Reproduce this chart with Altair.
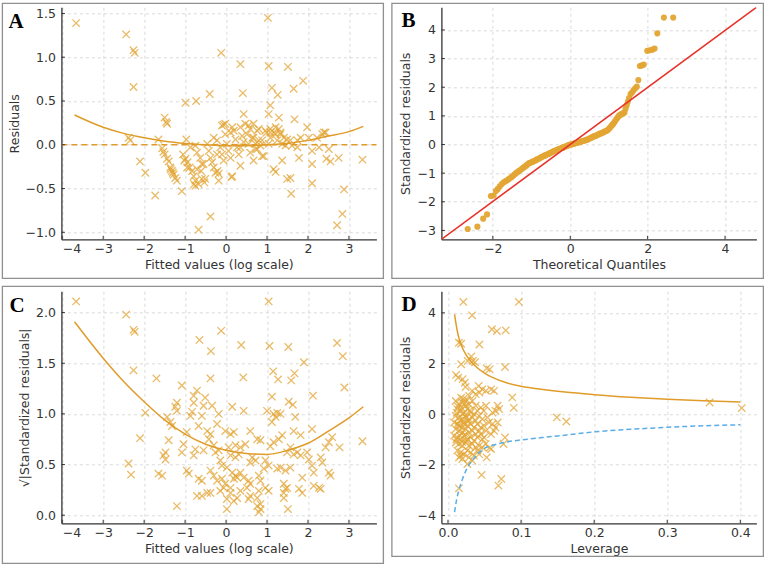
import altair as alt
import pandas as pd

FONT = "DejaVu Sans"
MARK = "#E3A534"
LINE = "#E09C2A"
RED = "#E8332B"
BLUE = "#5AAEE6"
XSHAPE = "M-1,-1L1,1M-1,1L1,-1"
W, H = 315, 232

# ---------------- Panel A : residuals vs fitted ----------------
a_pts = [
    (-3.66, 1.39), (-2.44, 1.26), (-2.26, 1.08), (-2.23, 1.05), (-2.26, 0.66), (-2.38, 0.08), (-2.34, 0.05),
    (-2.10, -0.19), (-1.97, -0.32), (-1.73, -0.58), (-1.65, 0.06), (-1.50, 0.31), (-1.46, 0.26), (-1.44, 0.24),
    (-1.08, -0.53), (-0.99, 0.48), (-0.97, 0.06), (-0.73, 0.50), (-0.67, -0.97),
    (-1.56, -0.04), (-1.53, -0.08), (-1.50, -0.11), (-1.44, -0.16), (-1.40, -0.19), (-1.36, -0.26), (-1.32, -0.30),
    (-1.28, -0.34), (-1.24, -0.38), (-1.20, -0.41), (-1.30, -0.32), (-1.35, -0.28),
    (-1.05, -0.11), (-0.99, -0.16), (-0.94, -0.20), (-0.89, -0.26), (-0.83, -0.30), (-0.79, -0.36), (-0.75, -0.41),
    (-0.67, -0.45), (-0.61, -0.30), (-0.59, -0.39), (-0.53, -0.43), (-1.02, -0.18), (-0.95, -0.26), (-0.75, -0.47),
    (-0.87, -0.03), (-0.75, -0.01), (-0.71, -0.09), (-0.63, -0.15), (-0.59, -0.22), (-0.46, 0.01), (-0.42, -0.07),
    (-0.38, -0.15), (-0.34, -0.20), (-0.30, -0.26), (-0.26, -0.32), (-0.21, -0.30), (-0.51, -0.39), (-0.30, 0.08),
    (-0.22, 0.05), (-0.14, -0.03), (-0.10, -0.11), (-0.06, -0.18), (-0.02, 0.12), (0.02, 0.01), (0.06, -0.07),
    (0.11, -0.15), (0.15, -0.36), (0.19, 0.16), (0.23, 0.06), (0.27, -0.03), (0.31, -0.11), (0.35, 0.20),
    (0.39, 0.10), (0.43, 0.03), (0.47, 0.24), (0.51, 0.12), (0.55, 0.01), (0.59, 0.18), (0.64, 0.08), (0.67, 0.24),
    (0.72, -0.05), (0.76, 0.16), (0.80, 0.05), (0.67, -0.18), (0.35, -0.24), (-0.18, -0.41), (-0.02, 0.24),
    (-0.10, 0.22), (0.11, 0.14),
    (-0.40, 0.58), (0.41, 0.59), (0.43, 0.35), (1.02, 1.45), (-0.12, 1.05), (0.35, 0.92), (1.04, 0.90), (1.51, 0.89),
    (1.88, 0.73), (1.65, 0.64), (1.12, 0.65), (1.26, 0.57), (1.08, 0.45), (1.04, 0.35), (1.29, 0.31), (1.67, 0.29),
    (-0.06, 0.23), (0.15, 0.20), (0.55, 0.22), (0.80, 0.18), (1.98, 0.20), (2.39, 0.14),
    (0.96, 0.16), (1.08, 0.14), (1.21, 0.12), (1.33, 0.12), (1.41, 0.08), (1.49, 0.06), (1.57, 0.05), (1.74, 0.05),
    (1.82, 0.08), (2.02, 0.08), (2.22, 0.08), (2.35, 0.12), (2.43, 0.14), (1.08, 0.08), (1.25, 0.05), (1.37, 0.01),
    (1.45, -0.01), (1.61, -0.01), (1.74, -0.03), (0.88, 0.05), (0.84, -0.01), (1.04, 0.01), (0.72, 0.01), (0.67, 0.08),
    (0.92, -0.13), (1.37, -0.18), (1.78, -0.15), (2.10, -0.07), (2.10, -0.22), (2.27, -0.03), (2.51, -0.05),
    (2.45, -0.16), (2.55, -0.19), (2.75, -0.15), (3.33, -0.17), (1.16, -0.28), (1.21, -0.31), (1.57, -0.38),
    (1.49, -0.39), (2.10, -0.44), (1.59, -0.56), (2.88, -0.51), (2.84, -0.79), (2.71, -0.92),
    (0.13, -0.37), (-0.18, -0.33), (-0.78, -0.45), (-0.38, -0.82),
    (0.35, -0.03), (0.59, -0.09), (0.76, -0.05), (0.88, -0.13), (-0.22, -0.11), (-0.55, -0.22), (-0.71, -0.28),
    (0.99, 0.14), (1.08, 0.18), (1.21, 0.20), (1.29, 0.18), (1.33, 0.14), (1.16, 0.14),
]
a_curve_x = [-3.7, -3.0, -2.5, -2.0, -1.5, -1.0, -0.5, 0.0, 0.5, 1.0, 1.5, 2.0, 2.5, 3.0, 3.35]
a_curve_y = [0.34, 0.20, 0.13, 0.08, 0.04, 0.015, 0.0, -0.01, -0.01, 0.0, 0.015, 0.05, 0.10, 0.15, 0.21]
a_zero_x = [-4.02, 3.67]
a_zero_y = [0.0, 0.0]

# ---------------- Panel B : normal Q-Q ----------------
b_qx = [-2.65, -2.40, -2.25, -2.15, -2.05, -1.98, -1.92, -1.87, -1.82, -1.77, -1.72, -1.67, -1.62, -1.58, -1.53,
        -1.49, -1.45, -1.41, -1.37, -1.33, -1.29, -1.25, -1.21, -1.18, -1.14, -1.11, -1.07, -1.04, -1.00, -0.97,
        -0.94, -0.90, -0.87, -0.84, -0.80, -0.77, -0.74, -0.71, -0.68, -0.65, -0.62, -0.58, -0.55, -0.52, -0.49,
        -0.46, -0.43, -0.40, -0.37, -0.34, -0.31, -0.28, -0.25, -0.22, -0.19, -0.16, -0.13, -0.10, -0.07, -0.04,
        -0.01, 0.02, 0.05, 0.08, 0.11, 0.14, 0.17, 0.20, 0.23, 0.26, 0.29, 0.32, 0.35, 0.38, 0.41, 0.44, 0.47,
        0.50, 0.53, 0.56, 0.59, 0.62, 0.65, 0.68, 0.71, 0.74, 0.77, 0.80, 0.83, 0.86, 0.89, 0.92, 0.95, 0.98,
        1.01, 1.04, 1.07, 1.10, 1.13, 1.16, 1.19, 1.22, 1.25, 1.28, 1.31, 1.34, 1.37, 1.40, 1.43, 1.46, 1.49,
        1.52, 1.56, 1.60, 1.64, 1.68, 1.72, 1.76, 1.80, 1.85, 1.90, 1.99, 2.05, 2.12, 2.18, 2.25, 2.42, 2.66]
b_qy = [-2.95, -2.87, -2.59, -2.44, -1.80, -1.78, -1.62, -1.55, -1.46, -1.38, -1.32, -1.28, -1.24, -1.20, -1.15,
        -1.11, -1.06, -1.01, -0.97, -0.93, -0.89, -0.85, -0.81, -0.78, -0.74, -0.70, -0.66, -0.64, -0.62, -0.60,
        -0.58, -0.56, -0.53, -0.51, -0.49, -0.46, -0.44, -0.42, -0.40, -0.38, -0.36, -0.34, -0.32, -0.30, -0.28,
        -0.26, -0.24, -0.22, -0.21, -0.19, -0.17, -0.16, -0.14, -0.12, -0.11, -0.09, -0.07, -0.06, -0.04, -0.02,
        0.00, 0.00, 0.01, 0.02, 0.04, 0.05, 0.06, 0.07, 0.08, 0.09, 0.11, 0.12, 0.13, 0.14, 0.16, 0.17, 0.19,
        0.21, 0.23, 0.25, 0.27, 0.29, 0.30, 0.32, 0.34, 0.36, 0.38, 0.39, 0.41, 0.43, 0.45, 0.47, 0.49, 0.52,
        0.56, 0.61, 0.66, 0.70, 0.76, 0.82, 0.88, 0.93, 0.99, 1.03, 1.05, 1.07, 1.09, 1.12, 1.25, 1.38, 1.50,
        1.62, 1.76, 1.82, 1.90, 1.96, 2.02, 2.25, 2.74, 2.76, 2.79, 3.27, 3.29, 3.31, 3.35, 3.88, 4.43, 4.43]
b_ref_x = [-3.33, 4.81]
b_ref_y = [-3.31, 4.79]

# ---------------- Panel C : scale-location ----------------
c_pts = [
    (-3.66, 2.11), (-2.44, 1.98), (-2.26, 1.83), (-2.23, 1.81), (-2.26, 1.43), (-1.70, 1.35), (-2.38, 0.51),
    (-2.32, 0.40), (-2.10, 0.76), (-1.97, 1.01),
    (1.04, 2.11), (-0.12, 1.82), (-0.65, 1.73), (0.37, 1.68), (-0.37, 1.62), (1.06, 1.67), (1.52, 1.66), (2.71, 1.70),
    (2.85, 1.57), (1.90, 1.51), (1.15, 1.42), (1.27, 1.34), (1.59, 1.33), (1.67, 1.40), (-0.38, 1.35), (0.42, 1.36),
    (-1.08, 1.28), (-0.71, 1.23), (-0.79, 1.18), (-1.20, 1.11), (-1.24, 1.07), (-1.20, 1.03), (-0.79, 1.11),
    (-0.83, 1.02), (-0.87, 0.98), (-0.51, 1.16), (-0.55, 1.08), (-0.59, 0.98), (-0.18, 1.00), (0.15, 1.07),
    (0.43, 1.03), (-0.34, 1.08), (-1.44, 0.97), (-1.36, 0.92), (-1.32, 0.88), (-0.67, 0.88), (-0.22, 0.90),
    (-0.96, 0.82), (-0.46, 0.83), (-0.38, 0.80), (-0.42, 0.75), (-0.02, 0.83), (0.11, 0.80), (0.19, 0.82),
    (0.59, 0.83), (-1.40, 0.74), (-1.04, 0.70), (-1.08, 0.62), (-0.75, 0.65), (-0.79, 0.59), (-0.55, 0.64),
    (-0.30, 0.69), (-0.26, 0.62), (-0.18, 0.64), (-0.14, 0.54), (-0.10, 0.49), (0.06, 0.67), (0.23, 0.69),
    (0.35, 0.67), (0.47, 0.70), (0.76, 0.75), (0.84, 0.74), (0.11, 0.59), (0.23, 0.57), (0.31, 0.60), (0.64, 0.57),
    (0.72, 0.54), (0.59, 0.52), (-1.48, 0.62), (-1.53, 0.59), (-1.48, 0.55), (-1.65, 0.41), (-1.56, 0.39),
    (-0.96, 0.44), (-0.91, 0.41), (-0.67, 0.36), (-0.59, 0.34), (-0.38, 0.44), (-0.30, 0.39), (-0.22, 0.34),
    (0.02, 0.47), (0.15, 0.42), (0.23, 0.39), (0.27, 0.37), (0.19, 0.36), (0.35, 0.42), (-0.10, 0.36), (-0.02, 0.31),
    (0.11, 0.27), (0.43, 0.37), (0.55, 0.34), (0.59, 0.31), (0.80, 0.39), (0.84, 0.34), (-0.71, 0.19), (-0.59, 0.19),
    (-0.38, 0.22), (-0.14, 0.24), (0.02, 0.16), (0.11, 0.22), (0.35, 0.24), (0.55, 0.16), (0.59, 0.19), (0.76, 0.17),
    (0.84, 0.11), (0.80, 0.03), (-1.20, 0.09), (0.02, 0.06),
    (1.12, 1.17), (1.53, 1.12), (1.63, 1.09), (2.12, 1.18), (2.89, 1.26), (1.00, 1.03), (1.16, 1.00), (1.25, 1.01),
    (1.33, 1.00), (1.12, 0.92), (1.21, 0.97), (1.69, 0.97), (1.65, 0.83), (1.82, 0.79), (2.10, 0.85), (1.37, 0.79),
    (1.29, 0.75), (1.16, 0.72), (1.08, 0.68), (2.59, 0.77), (2.51, 0.72), (2.43, 0.67), (2.77, 0.67), (3.33, 0.73),
    (1.57, 0.67), (1.49, 0.62), (1.65, 0.60), (1.74, 0.62), (1.82, 0.59), (1.98, 0.62), (2.02, 0.55), (2.31, 0.57),
    (2.35, 0.52), (0.96, 0.54), (1.04, 0.49), (0.92, 0.46), (1.25, 0.46), (1.33, 0.47), (1.45, 0.44), (1.57, 0.47),
    (2.10, 0.49), (2.14, 0.42), (2.51, 0.42), (2.55, 0.39), (1.86, 0.37), (0.96, 0.27), (1.04, 0.24), (1.41, 0.31),
    (1.45, 0.26), (1.49, 0.27), (1.41, 0.22), (1.78, 0.26), (1.86, 0.22), (2.14, 0.29), (2.27, 0.27), (2.31, 0.26),
    (1.41, 0.17), (1.51, 0.06), (0.84, 0.06),
    (0.80, 0.24), (0.76, 0.09), (0.51, 0.27), (0.27, 0.17), (0.19, 0.14), (-0.46, 0.22), (-0.06, 0.27),
]
c_curve_x = [-3.7, -3.0, -2.5, -2.0, -1.5, -1.0, -0.5, 0.0, 0.5, 1.0, 1.5, 2.0, 2.5, 3.0, 3.35]
c_curve_y = [1.91, 1.55, 1.32, 1.12, 0.94, 0.80, 0.70, 0.64, 0.61, 0.60, 0.64, 0.71, 0.83, 0.96, 1.07]

# ---------------- Panel D : residuals vs leverage ----------------
d_pts = [
    (0.021, 4.43), (0.097, 4.43), (0.033, 3.90), (0.060, 3.35), (0.067, 3.28), (0.079, 3.31), (0.015, 2.82),
    (0.018, 2.78), (0.043, 2.75), (0.032, 2.28), (0.034, 2.10), (0.037, 2.05), (0.027, 2.10), (0.018, 1.97),
    (0.053, 1.81), (0.057, 1.77), (0.078, 1.86), (0.011, 1.55), (0.014, 1.44), (0.020, 1.38), (0.023, 1.24),
    (0.024, 1.07), (0.088, 0.66), (0.090, 0.25), (0.149, -0.13), (0.162, -0.29), (0.358, 0.46), (0.402, 0.24),
    (0.078, -0.92), (0.076, -1.18), (0.057, -1.33), (0.053, -1.71), (0.046, -2.40), (0.073, -2.56), (0.069, -2.82),
    (0.015, -2.93),
    (0.042, 1.11), (0.047, 0.98), (0.052, 0.92), (0.059, 0.98), (0.063, 0.92), (0.033, 0.92), (0.038, 0.79),
    (0.043, 0.85), (0.029, 0.72), (0.068, 0.33), (0.070, 0.20), (0.065, 0.13), (0.061, 0.06), (0.052, 0.33),
    (0.049, 0.13), (0.054, -0.13), (0.056, -0.33), (0.061, -0.39), (0.065, -0.53), (0.068, -0.33), (0.063, -0.66),
    (0.059, -0.79), (0.049, -0.46), (0.052, -0.66), (0.059, -1.38),
    (0.0106, 0.52), (0.0151, 0.39), (0.0197, 0.46), (0.0243, 0.33), (0.0288, 0.39), (0.0334, 0.52), (0.0380, 0.33),
    (0.0128, 0.20), (0.0174, 0.13), (0.0220, 0.06), (0.0266, 0.20), (0.0311, 0.06), (0.0357, 0.00), (0.0403, 0.13),
    (0.0449, 0.26), (0.0106, -0.07), (0.0151, -0.13), (0.0197, -0.20), (0.0243, -0.07), (0.0288, -0.20),
    (0.0334, -0.13), (0.0380, -0.26), (0.0426, -0.07), (0.0471, -0.20), (0.0083, -0.33), (0.0128, -0.39),
    (0.0174, -0.46), (0.0220, -0.33), (0.0266, -0.46), (0.0311, -0.39), (0.0357, -0.53), (0.0403, -0.39),
    (0.0449, -0.53), (0.0106, -0.59), (0.0151, -0.66), (0.0197, -0.72), (0.0243, -0.59), (0.0288, -0.72),
    (0.0334, -0.66), (0.0380, -0.79), (0.0426, -0.66), (0.0083, -0.85), (0.0128, -0.92), (0.0174, -0.99),
    (0.0220, -0.85), (0.0266, -0.99), (0.0311, -0.92), (0.0357, -1.05), (0.0403, -0.92), (0.0106, -1.12),
    (0.0151, -1.18), (0.0197, -1.25), (0.0243, -1.12), (0.0288, -1.25), (0.0334, -1.18), (0.0380, -1.31),
    (0.0128, -1.44), (0.0174, -1.51), (0.0220, -1.58), (0.0266, -1.44), (0.0311, -1.51), (0.0357, -1.64),
    (0.0151, -1.71), (0.0197, -1.77), (0.0288, -1.71), (0.0334, -1.84), (0.0266, -1.97), (0.0174, -1.64),
    (0.0403, -1.44), (0.0426, -1.25), (0.0471, -0.99), (0.0449, -0.79), (0.0494, -0.92), (0.0517, -1.18),
    (0.0471, -1.31), (0.0426, -1.58),
    (0.0140, 0.30), (0.0185, 0.25), (0.0230, 0.45), (0.0205, 0.00), (0.0160, -0.25), (0.0250, -0.15),
    (0.0190, -0.55), (0.0235, -0.80), (0.0165, -0.85), (0.0275, -0.30), (0.0120, 0.05), (0.0300, 0.15),
    (0.0210, 0.60), (0.0260, 0.55), (0.0180, 0.65), (0.0145, -0.45), (0.0225, -0.40), (0.0115, -1.00),
    (0.0255, -1.05), (0.0195, -1.10),
]
d_cook_x = [0.009, 0.012, 0.015, 0.02, 0.025, 0.03, 0.04, 0.05, 0.06, 0.08, 0.10, 0.13, 0.16, 0.20, 0.25, 0.30, 0.35, 0.40]
d_upper_y = [3.94, 3.40, 3.00, 2.60, 2.33, 2.13, 1.83, 1.62, 1.46, 1.24, 1.10, 0.97, 0.87, 0.77, 0.67, 0.59, 0.53, 0.48]
d_lower_y = [-3.87, -3.35, -3.00, -2.55, -2.20, -1.95, -1.60, -1.35, -1.24, -1.10, -1.02, -0.92, -0.83, -0.70, -0.60, -0.52, -0.46, -0.42]


def pts_df(pts):
    return pd.DataFrame({"x": [p[0] for p in pts], "y": [p[1] for p in pts]})


def enc(xdom, ydom, xvals, yvals, xfmt, yfmt, xtitle, ytitle):
    ex = alt.X("x:Q", scale=alt.Scale(domain=xdom, nice=False, zero=False),
               axis=alt.Axis(values=xvals, format=xfmt, title=xtitle))
    ey = alt.Y("y:Q", scale=alt.Scale(domain=ydom, nice=False, zero=False),
               axis=alt.Axis(values=yvals, format=yfmt, title=ytitle))
    return ex, ey


def decor(letter, lx, ly, box, xvals, yvals, ex, ey):
    one = pd.DataFrame({"k": [1]})
    frame = alt.Chart(one).mark_rect(fill="transparent", stroke="#8f8f8f", strokeWidth=1.3).encode(
        x=alt.value(box[0]), x2=alt.value(box[2]), y=alt.value(box[1]), y2=alt.value(box[3]))
    label = alt.Chart(one).mark_text(text=letter, font="Liberation Serif", fontWeight="bold", fontSize=21,
                                      align="left", baseline="alphabetic", color="black").encode(
        x=alt.value(lx), y=alt.value(ly))
    xt = alt.Chart(pd.DataFrame({"x": xvals})).mark_rule(color="#333333", strokeWidth=1).encode(
        x=ex, y=alt.value(H - 3.5), y2=alt.value(H))
    yt = alt.Chart(pd.DataFrame({"y": yvals})).mark_rule(color="#333333", strokeWidth=1).encode(
        y=ey, x=alt.value(0), x2=alt.value(3.5))
    return [frame, label, xt, yt]


def xmarks(df, ex, ey):
    return alt.Chart(df).mark_point(shape=XSHAPE, filled=False, size=55, strokeWidth=1.3,
                                    color=MARK, opacity=0.75).encode(x=ex, y=ey)


# Panel A
axv = [-4, -3, -2, -1, 0, 1, 2, 3]
ayv = [-1.0, -0.5, 0.0, 0.5, 1.0, 1.5]
exA, eyA = enc([-4.02, 3.67], [-1.08, 1.57], axv, ayv, "d", ".1f", "Fitted values (log scale)", "Residuals")
A = alt.layer(
    xmarks(pts_df(a_pts), exA, eyA),
    alt.Chart(pd.DataFrame({"x": a_zero_x, "y": a_zero_y})).mark_line(
        color=LINE, strokeWidth=1.5, strokeDash=[6, 4]).encode(x=exA, y=eyA),
    alt.Chart(pd.DataFrame({"x": a_curve_x, "y": a_curve_y})).mark_line(
        color=LINE, strokeWidth=1.5, interpolate="monotone").encode(x=exA, y=eyA),
    *decor("A", -53, 21, (-59, -4, 322, 271), axv, ayv, exA, eyA),
).properties(width=W, height=H)

# Panel B
bxv = [-2, 0, 2, 4]
byv = [-3, -2, -1, 0, 1, 2, 3, 4]
exB, eyB = enc([-3.33, 4.81], [-3.31, 4.79], bxv, byv, "d", "d", "Theoretical Quantiles", "Standardized residuals")
B = alt.layer(
    alt.Chart(pd.DataFrame({"x": b_qx, "y": b_qy})).mark_circle(size=38, color=MARK, opacity=0.95).encode(
        x=exB, y=eyB),
    alt.Chart(pd.DataFrame({"x": b_ref_x, "y": b_ref_y})).mark_line(color=RED, strokeWidth=1.5, clip=True).encode(
        x=exB, y=eyB),
    *decor("B", -40, 20, (-49.5, -4, 322, 271), bxv, byv, exB, eyB),
).properties(width=W, height=H)

# Panel C
cyv = [0.0, 0.5, 1.0, 1.5, 2.0]
exC, eyC = enc([-4.02, 3.67], [-0.08, 2.21], axv, cyv, "d", ".1f", "Fitted values (log scale)",
               "√|Standardized residuals|")
C = alt.layer(
    xmarks(pts_df(c_pts), exC, eyC),
    alt.Chart(pd.DataFrame({"x": c_curve_x, "y": c_curve_y})).mark_line(
        color=LINE, strokeWidth=1.5, interpolate="monotone").encode(x=exC, y=eyC),
    *decor("C", -52, 21, (-59, -5, 322, 272), axv, cyv, exC, eyC),
).properties(width=W, height=H)

# Panel D
dxv = [0.0, 0.1, 0.2, 0.3, 0.4]
dyv = [-4, -2, 0, 2, 4]
exD, eyD = enc([-0.009, 0.422], [-4.31, 4.85], dxv, dyv, ".1f", "d", "Leverage", "Standardized residuals")
D = alt.layer(
    xmarks(pts_df(d_pts), exD, eyD),
    alt.Chart(pd.DataFrame({"x": d_cook_x, "y": d_upper_y})).mark_line(
        color=LINE, strokeWidth=1.5, interpolate="monotone").encode(x=exD, y=eyD),
    alt.Chart(pd.DataFrame({"x": d_cook_x, "y": d_lower_y})).mark_line(
        color=BLUE, strokeWidth=1.5, strokeDash=[5, 3], interpolate="monotone").encode(x=exD, y=eyD),
    *decor("D", -40, 20, (-49.5, -5, 322, 265), dxv, dyv, exD, eyD),
).properties(width=W, height=H)

chart = alt.concat(A, B, C, D, columns=2, spacing={"row": 52, "column": 65}, bounds="flush").properties(
    padding={"left": 1.4, "top": 2.3, "right": 0, "bottom": 0}
).configure_view(strokeWidth=0).configure_axis(
    labelFont=FONT, titleFont=FONT, labelFontSize=12.5, titleFontSize=12.5, titleFontWeight="normal",
    labelColor="#333333", titleColor="#333333", domainColor="#333333", domainWidth=1.3,
    ticks=False, tickSize=0, gridColor="#d0d0d0", gridDash=[3, 3], gridWidth=0.8,
).configure_axisX(labelPadding=3, titlePadding=4).configure_axisY(labelPadding=6, titlePadding=4)

chart.save("out.html", embed_options={"renderer": "svg", "actions": False})
